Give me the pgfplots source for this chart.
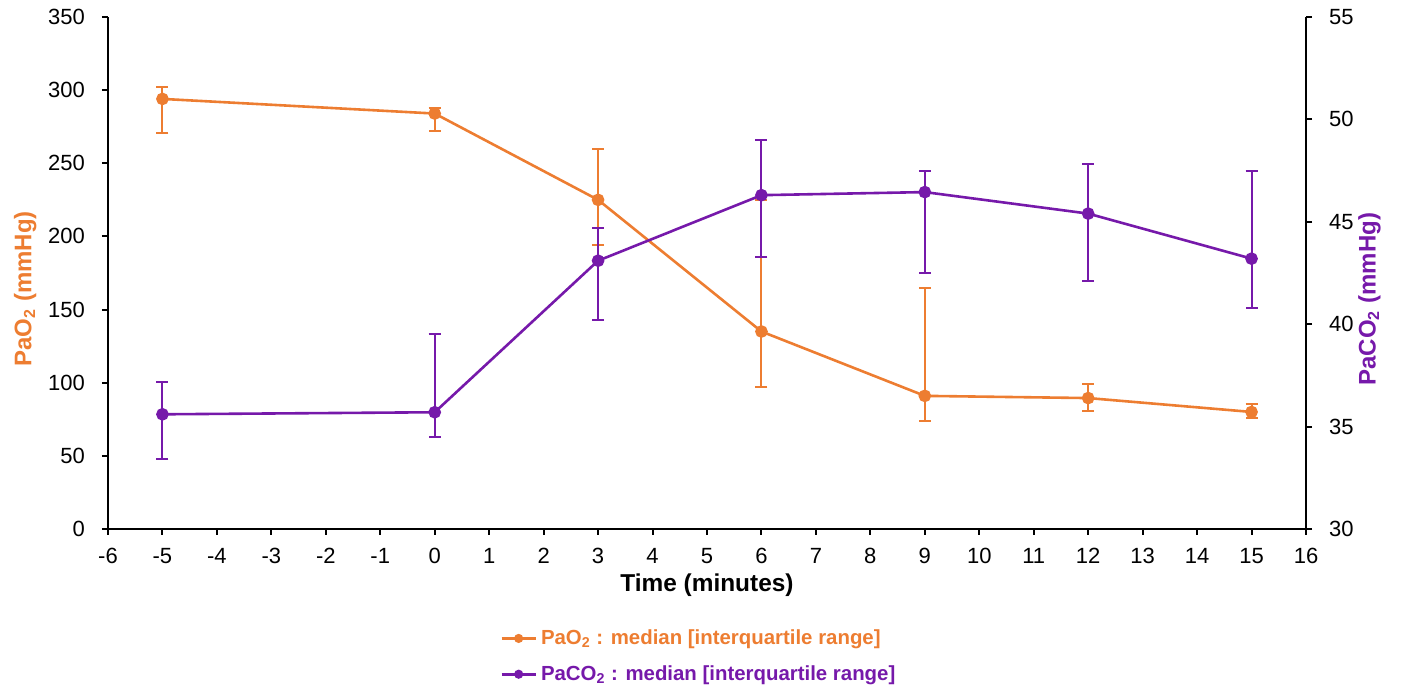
\documentclass[border=0pt]{standalone}
\usepackage{pgfplots}
\pgfplotsset{compat=1.18}
\usepackage{pgfplotstable}
\usepackage{fontspec}
\setmainfont{Liberation Sans}
\definecolor{cOr}{RGB}{237,125,49}
\definecolor{cPu}{RGB}{118,25,170}
\pgfplotstableread{
x y ep em
-5 294 8 23
0 284 4 12
3 225 35 31
6 135 90 38
9 91 74 17
12 89.5 9.5 9
15 80 5.5 4
}\paotable
\pgfplotstableread{
x y ep em
-5 35.6 1.6 2.2
0 35.7 3.8 1.2
3 43.1 1.6 2.9
6 46.3 2.7 3.0
9 46.45 1.05 3.95
12 45.4 2.4 3.3
15 43.2 4.3 2.4
}\pacotable
\begin{document}
\begin{tikzpicture}
\pgfplotsset{
  common/.style={
    scale only axis, width=599pt, height=256pt,
    xmin=-6, xmax=16,
    tick align=outside,
    major tick length=3pt,
    tick style={black, line width=1pt},
    axis line style={black, line width=1.2pt},
    ticklabel style={font=\fontsize{11}{13}\selectfont},
    /pgf/number format/assume math mode=true,
    clip=false,
  },
}
\begin{axis}[common, name=a,
  axis lines*=left,
  ymin=0, ymax=350, ytick={0,50,...,350},
  xtick={-6,...,16},
  yticklabel style={xshift=-5pt},
  xticklabel style={yshift=-3pt},
  xlabel={\textbf{Time (minutes)}},
  xlabel style={font=\fontsize{12.2}{14}\selectfont, at={(axis description cs:0.5,-0.11)}, anchor=center},
  ylabel={\textcolor{cOr}{\textbf{PaO\textsubscript{2} (mmHg)}}},
  ylabel style={font=\fontsize{12}{14}\selectfont, at={(axis description cs:-0.069,0.469)}, anchor=center},
  legend style={at={(axis description cs:0.494,-0.18)}, anchor=north, draw=none, fill=none,
    font=\fontsize{10.2}{12}\selectfont\bfseries, row sep=5pt, cells={anchor=west}},
  legend cell align=left,
]
\addplot[forget plot, cOr, line width=1.3pt, mark=*, mark size=2.5pt,
  error bars/.cd, y dir=both, y explicit,
  error bar style={line width=1pt, cOr}, error mark options={rotate=90, mark size=3pt, line width=1pt, cOr}]
  table[x=x, y=y, y error plus=ep, y error minus=em] {\paotable};
\addlegendimage{cOr, line width=1.3pt, mark=*, mark size=1.6pt}
\addlegendentry{\textcolor{cOr}{PaO\textsubscript{2} : median [interquartile range]}}
\addlegendimage{cPu, line width=1.3pt, mark=*, mark size=1.6pt}
\addlegendentry{\textcolor{cPu}{PaCO\textsubscript{2} : median [interquartile range]}}
\end{axis}
\begin{axis}[common,
  axis x line=none, axis y line*=right,
  ymin=30, ymax=55, ytick={30,35,...,55},
  yticklabel style={xshift=5pt},
  ylabel={\textcolor{cPu}{\textbf{PaCO\textsubscript{2} (mmHg)}}},
  ylabel style={font=\fontsize{12}{14}\selectfont, at={(axis description cs:1.053,0.449)}, anchor=center},
]
\addplot[cPu, line width=1.3pt, mark=*, mark size=2.5pt,
  error bars/.cd, y dir=both, y explicit,
  error bar style={line width=1pt, cPu}, error mark options={rotate=90, mark size=3pt, line width=1pt, cPu}]
  table[x=x, y=y, y error plus=ep, y error minus=em] {\pacotable};
\end{axis}
\pgfresetboundingbox
\path[use as bounding box] ([xshift=-54pt, yshift=-84.5pt]a.south west) rectangle ([xshift=49pt, yshift=8.5pt]a.north east);
\end{tikzpicture}
\end{document}
